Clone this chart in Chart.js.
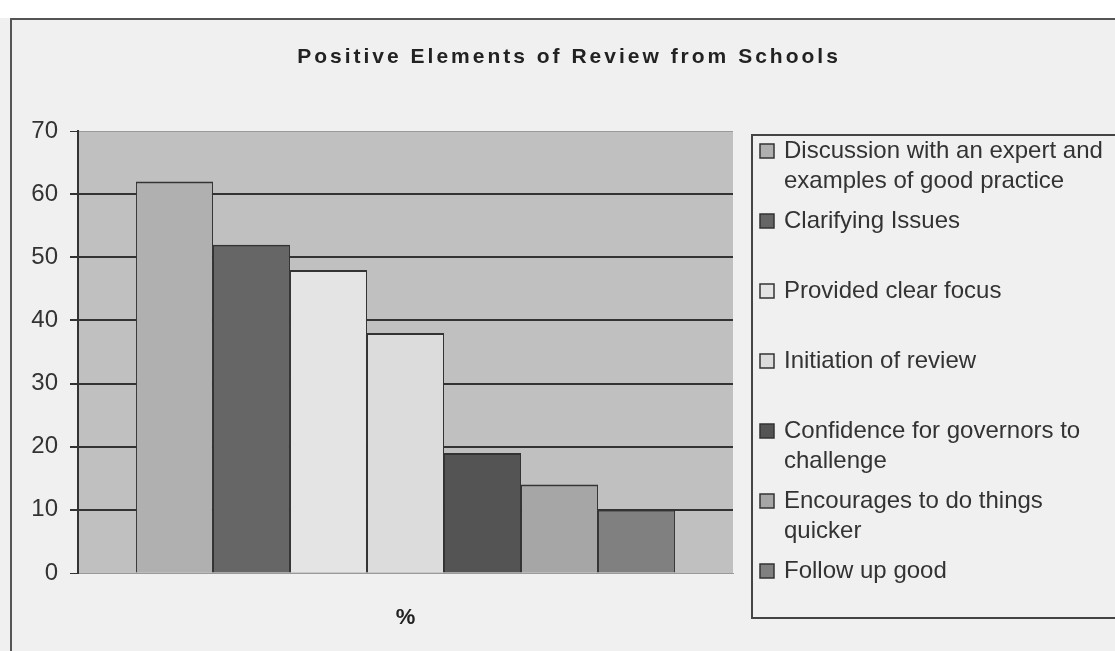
<!DOCTYPE html>
<html>
<head>
<meta charset="utf-8">
<script src="https://cdn.jsdelivr.net/npm/chart.js@4.4.1/dist/chart.umd.min.js"></script>
<style>
  html, body { margin: 0; padding: 0; background: #f0f0f0; }
  #wrap { width: 1115px; height: 651px; }
</style>
</head>
<body>
<div id="wrap"><canvas id="c" width="1115" height="651"></canvas></div>
<script>
'use strict';

// Survey results: share of schools naming each positive element of the review.
const TITLE      = 'Positive Elements of Review from Schools';
const X_TITLE    = '%';
const CATEGORIES = [''];
const SERIES_LINES = [
  ['Discussion with an expert and', 'examples of good practice'],
  ['Clarifying Issues'],
  ['Provided clear focus'],
  ['Initiation of review'],
  ['Confidence for governors to', 'challenge'],
  ['Encourages to do things', 'quicker'],
  ['Follow up good'],
];
const SERIES_VALUES = [62, 52, 48, 38, 19, 14, 10];
const SERIES_COLORS = ['#b0b0b0', '#666666', '#e4e4e4', '#dcdcdc', '#545454', '#a6a6a6', '#808080'];
const Y_MAX  = 70;
const Y_STEP = 10;

const FONT = '"Liberation Sans", Arial, sans-serif';

// ── Page frame, plot background and letter-spaced title ──────────────────
const framePlugin = {
  id: 'frame',
  beforeDraw(chart) {
    const {ctx, width, height, chartArea: a} = chart;
    ctx.save();
    ctx.fillStyle = '#ffffff';
    ctx.fillRect(0, 0, width, 18);
    ctx.fillStyle = '#f0f0f0';
    ctx.fillRect(0, 18, width, height - 18);
    ctx.strokeStyle = '#555';
    ctx.lineWidth = 2;
    ctx.beginPath();
    ctx.moveTo(11, height + 2);
    ctx.lineTo(11, 19);
    ctx.lineTo(width + 2, 19);
    ctx.stroke();

    ctx.fillStyle = '#c0c0c0';
    ctx.fillRect(a.left, a.top, a.right - a.left, a.bottom - a.top);

    ctx.font = 'bold 21px ' + FONT;
    ctx.letterSpacing = '3px';
    ctx.fillStyle = '#222';
    ctx.textAlign = 'center';
    ctx.textBaseline = 'middle';
    ctx.fillText(TITLE, 569, 57);
    ctx.restore();
  },
};

// ── Boxed legend on the right with wrapped entries ───────────────────────
const sideLegendPlugin = {
  id: 'sideLegend',
  afterDraw(chart) {
    const {ctx, width} = chart;
    const left = 752, top = 135, bottom = 618;
    ctx.save();
    ctx.strokeStyle = '#444';
    ctx.lineWidth = 2;
    ctx.strokeRect(left, top, width - left + 10, bottom - top);

    ctx.font = '24px ' + FONT;
    ctx.textAlign = 'left';
    ctx.textBaseline = 'middle';
    chart.data.datasets.forEach((ds, i) => {
      const cy = 151 + i * 70;
      ctx.fillStyle = ds.backgroundColor;
      ctx.fillRect(760, cy - 7, 14, 14);
      ctx.strokeStyle = '#333';
      ctx.lineWidth = 1.5;
      ctx.strokeRect(760, cy - 7, 14, 14);
      ctx.fillStyle = '#333';
      ds.legendLines.forEach((t, j) => ctx.fillText(t, 784, cy + j * 30));
    });
    ctx.restore();
  },
};

const edgeValue = v => v === 0 || v === Y_MAX;

new Chart(document.getElementById('c'), {
  type: 'bar',
  data: {
    labels: CATEGORIES,
    datasets: SERIES_VALUES.map((v, i) => ({
      label:           SERIES_LINES[i].join(' '),
      legendLines:     SERIES_LINES[i],
      data:            [v],
      backgroundColor: SERIES_COLORS[i],
      borderColor:     '#333',
      borderWidth:     {top: 2, left: 1, right: 1, bottom: 0},
      categoryPercentage: 0.823,
      barPercentage:   1,
    })),
  },
  options: {
    responsive: false,
    animation: false,
    devicePixelRatio: 1,
    layout: {padding: {left: 0, top: 131, right: 382, bottom: 0}},
    plugins: {
      legend:  {display: false},
      title:   {display: false},
      tooltip: {enabled: false},
    },
    scales: {
      x: {
        grid:   {display: false, drawTicks: false},
        ticks:  {display: false},
        border: {display: true, color: '#9a9a9a', width: 1},
        title:  {display: true, text: X_TITLE, color: '#222',
                 font: {family: FONT, size: 22, weight: 'bold'},
                 padding: {top: 0, bottom: 20}},
        afterFit: s => { s.height = 78; },
      },
      y: {
        min: 0, max: Y_MAX,
        ticks:  {stepSize: Y_STEP, padding: 12, color: '#333',
                 font: {family: FONT, size: 24}},
        grid:   {
          color:     c => (c.tick && edgeValue(c.tick.value)) ? '#9a9a9a' : '#333',
          lineWidth: c => (c.tick && edgeValue(c.tick.value)) ? 1 : 2,
          tickColor: '#333',
          tickLength: 8,
        },
        border: {color: '#333', width: 2},
        afterFit: s => { s.width = 78; },
      },
    },
  },
  plugins: [framePlugin, sideLegendPlugin],
});
</script>
</body>
</html>
